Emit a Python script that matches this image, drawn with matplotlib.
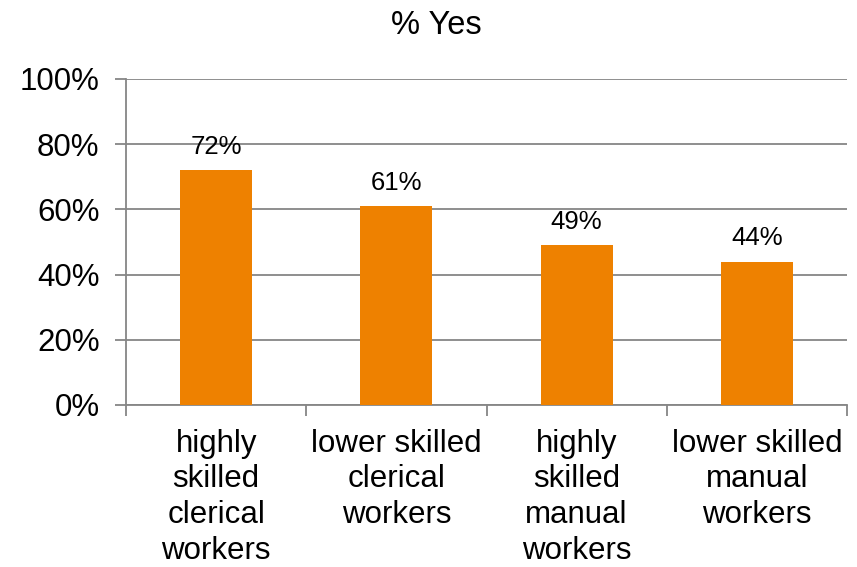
import matplotlib
matplotlib.use("Agg")
import matplotlib.pyplot as plt
import numpy as np
from matplotlib.ticker import FixedLocator

categories = ["highly\nskilled\nclerical\nworkers",
              "lower skilled\nclerical\nworkers",
              "highly\nskilled\nmanual\nworkers",
              "lower skilled\nmanual\nworkers"]
values = [72, 61, 49, 44]
yticks = [0, 20, 40, 60, 80, 100]

plt.rcParams['font.family'] = ['Liberation Sans', 'DejaVu Sans']

fig = plt.figure(figsize=(8.57, 5.67), dpi=100)
ax = fig.add_axes([126 / 857, 1 - 405 / 567, 721 / 857, 326 / 567])

grid_col = '#868686'
x = np.arange(len(categories))
ax.bar(x, values, width=0.4, color='#EE8100', zorder=3)

for xi, v in zip(x, values):
    ax.annotate(f"{v}%", (xi, v), textcoords="offset points", xytext=(0, 8),
                ha='center', va='bottom', fontsize=18.5)

ax.set_xlim(-0.5, len(categories) - 0.5)
ax.set_ylim(0, 100)
ax.set_yticks(yticks)
ax.set_yticklabels([f"{t}%" for t in yticks], fontsize=22.5)
ax.yaxis.grid(True, color=grid_col, linewidth=1.3, zorder=0)

ax.set_xticks(x)
ax.set_xticklabels(categories, fontsize=22.5, linespacing=1.25)
ax.xaxis.set_minor_locator(FixedLocator(np.arange(-0.5, len(categories), 1.0)))
ax.tick_params(axis='x', which='major', length=0, pad=17)
ax.tick_params(axis='x', which='minor', length=8, width=1.3, color=grid_col)
ax.tick_params(axis='y', length=8, width=1.3, color=grid_col, pad=11)

for s in ['top', 'right']:
    ax.spines[s].set_visible(False)
for s in ['left', 'bottom']:
    ax.spines[s].set_color(grid_col)
    ax.spines[s].set_linewidth(1.3)

fig.text(436 / 857, 1 - 25 / 567, "% Yes", ha='center', va='center', fontsize=23.5)

fig.savefig("out.png", dpi=100)
